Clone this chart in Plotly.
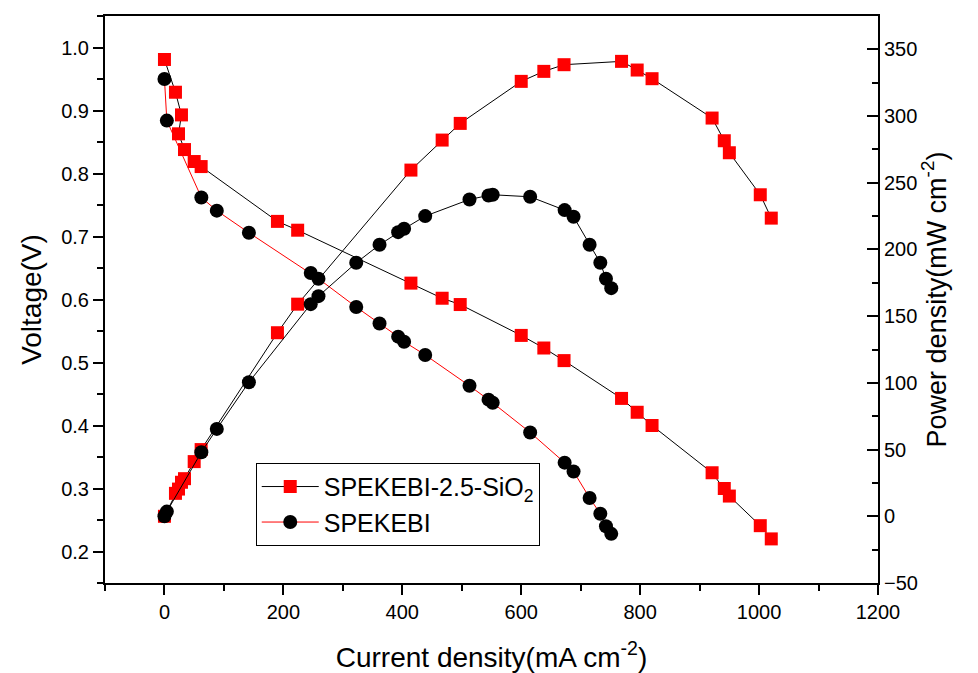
import plotly.graph_objects as go

# SPEKEBI-2.5-SiO2 (red squares, black line)
s1_current = [0, 18.5, 28.6, 23.6, 33.7, 50, 61.7, 190, 224, 414.5, 467, 497.4, 600, 638, 672,
              768.7, 795, 820, 921, 941.5, 950, 1002, 1020.5]
s1_voltage = [0.981, 0.929, 0.893, 0.863, 0.838, 0.819, 0.811, 0.724, 0.710, 0.626, 0.602, 0.592,
              0.543, 0.523, 0.503, 0.443, 0.421, 0.400, 0.325, 0.300, 0.288, 0.241, 0.220]
s1_power = [0, 17.2, 25.5, 20.4, 28.2, 41, 50, 137.6, 159, 259.5, 282, 294.5, 326, 333.5, 338.5,
            341, 334.5, 328, 298.5, 281.5, 272.5, 241, 223.5]

# SPEKEBI (black circles, red line)
s2_current = [0, 4, 62, 88, 142, 246, 259, 322.5, 361.7, 393, 403, 438.5, 513, 545, 552, 615,
              673, 688, 715, 733, 742.5, 751.4]
s2_voltage = [0.950, 0.884, 0.762, 0.741, 0.706, 0.642, 0.633, 0.588, 0.562, 0.541, 0.533, 0.512,
              0.463, 0.441, 0.436, 0.389, 0.341, 0.327, 0.285, 0.260, 0.240, 0.228]
s2_power = [0, 3.5, 48, 65.5, 100.5, 159, 165, 190, 203.5, 213, 215.5, 225, 237.5, 240.5, 241,
            239.5, 229.5, 224.5, 203.5, 190, 178, 171]

names = ["SPEKEBI-2.5-SiO<sub>2</sub>", "SPEKEBI"]

FONT = "Liberation Sans, Arial, sans-serif"
RED = "#FF0000"

fig = go.Figure()

sq = dict(symbol="square", size=13, color=RED, line=dict(width=0))
ci = dict(symbol="circle", size=14, color="black", line=dict(width=0))

fig.add_trace(go.Scatter(x=s1_current, y=s1_voltage, mode="lines+markers", name=names[0],
                         line=dict(color="black", width=1), marker=sq, legendrank=1))
fig.add_trace(go.Scatter(x=s2_current, y=s2_voltage, mode="lines+markers", name=names[1],
                         line=dict(color=RED, width=1), marker=ci, legendrank=2))
fig.add_trace(go.Scatter(x=s1_current, y=s1_power, mode="lines+markers", name=names[0],
                         line=dict(color="black", width=1), marker=sq, yaxis="y2",
                         showlegend=False))
fig.add_trace(go.Scatter(x=s2_current, y=s2_power, mode="lines+markers", name=names[1],
                         line=dict(color="black", width=1), marker=ci, yaxis="y2",
                         showlegend=False))

# page body has an 8px default margin, so the figure is 8px smaller and margins shifted
fig.update_layout(
    width=970, height=665,
    margin=dict(l=97, r=100, t=8, b=90),
    paper_bgcolor="white", plot_bgcolor="white",
    font=dict(family=FONT, color="black", size=20),
    showlegend=True,
    legend=dict(x=0.195, y=0.212, xanchor="left", yanchor="top",
                bordercolor="black", borderwidth=1, bgcolor="rgba(255,255,255,0)",
                font=dict(size=25, family=FONT), tracegroupgap=0, itemwidth=57),
    xaxis=dict(range=[-100, 1200], dtick=200, tick0=0, showgrid=False, zeroline=False,
               automargin=False,
               showline=True, linecolor="black", linewidth=2, mirror=True,
               ticks="outside", ticklen=10, tickwidth=2, tickcolor="black",
               minor=dict(dtick=100, ticks="outside", ticklen=6, tickwidth=2, tickcolor="black"),
               title=dict(text="Current density(mA cm<sup>-2</sup>)", font=dict(size=28), standoff=26),
               tickfont=dict(size=20)),
    yaxis=dict(range=[0.15, 1.05], dtick=0.1, tick0=0.2, tickformat=".1f", showgrid=False,
               automargin=False,
               zeroline=False, showline=True, linecolor="black", linewidth=2,
               ticks="outside", ticklen=10, tickwidth=2, tickcolor="black",
               minor=dict(dtick=0.05, ticks="outside", ticklen=6, tickwidth=2, tickcolor="black"),
               title=dict(text="Voltage(V)", font=dict(size=28), standoff=11),
               tickfont=dict(size=20)),
    yaxis2=dict(range=[-50, 375], dtick=50, tick0=-50, overlaying="y", side="right",
                automargin=False,
                showgrid=False, zeroline=False, showline=True, linecolor="black", linewidth=2,
                ticks="inside", ticklen=11, tickwidth=2, tickcolor="black",
                minor=dict(dtick=25, ticks="inside", ticklen=6, tickwidth=2, tickcolor="black"),
                title=dict(text="Power density(mW cm<sup>-2</sup>)", font=dict(size=27), standoff=8),
                tickfont=dict(size=20)),
)

fig.write_html("out.html")
